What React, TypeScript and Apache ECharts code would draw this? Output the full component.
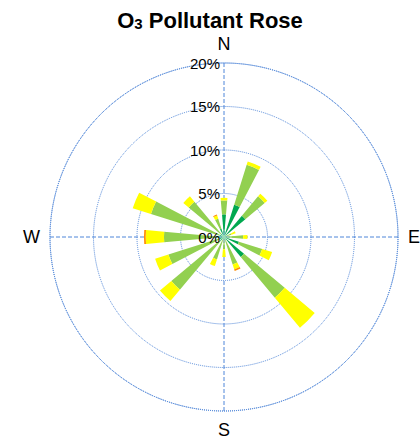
import React, { useEffect, useRef } from "react";
import * as echarts from "echarts";

const directions = ["N", "NNE", "NE", "ENE", "E", "ESE", "SE", "SSE", "S", "SSW", "SW", "WSW", "W", "WNW", "NW", "NNW"];
const band1 = [2.6, 3.9, 3.2, 0.3, 0.3, 1.8, 3.0, 0.4, 0.2, 0.3, 0.6, 0.6, 0.8, 0.5, 0.5, 1.0];
const band2 = [1.6, 4.8, 2.9, 0.6, 1.9, 2.8, 6.1, 2.9, 1.2, 2.4, 7.3, 6.1, 6.1, 8.3, 4.8, 1.2];
const band3 = [0.3, 0.4, 0.4, 0.5, 0.5, 1.2, 4.5, 0.6, 0.9, 0.8, 1.7, 1.6, 2.1, 2.2, 0.8, 0.4];
const band4 = [0, 0, 0, 0, 0, 0, 0, 0.2, 0, 0, 0, 0, 0.2, 0, 0, 0.1];
const bandColors = ["#00a84f", "#92d050", "#ffff00", "#ff8c00"];
const bands = [band1, band2, band3, band4];
const radiusTicks = [0, 5, 10, 15, 20];

const FONT = "Liberation Sans, Arial, sans-serif";
const GRID = "#4f86d9";

export default function App() {
  const ref = useRef<HTMLDivElement>(null);
  useEffect(() => {
    const chart = echarts.init(ref.current!, null, { renderer: "svg" });
    chart.setOption({
      animation: false,
      backgroundColor: "#ffffff",
      title: {
        text: "O{s|3} Pollutant Rose",
        left: "center",
        top: 4,
        textStyle: {
          fontFamily: FONT,
          fontSize: 22,
          fontWeight: "bold",
          color: "#000",
          rich: {
            s: { fontFamily: FONT, fontSize: 15, fontWeight: "bold", color: "#000", verticalAlign: "bottom", padding: [6, 0, 0, 0] },
          },
        },
      },
      polar: [
        { center: [224, 237], radius: 174 },
        { center: [224, 237], radius: 174 },
      ],
      angleAxis: [
        {
          polarIndex: 0,
          type: "category",
          data: directions,
          startAngle: 90,
          clockwise: true,
          boundaryGap: false,
          axisLine: { show: false },
          axisTick: { show: false, interval: 3 },
          axisLabel: { show: true, interval: 3, fontFamily: FONT, fontSize: 18, color: "#000", margin: 10 },
          splitLine: { show: false },
          z: 4,
        },
        {
          polarIndex: 1,
          type: "value",
          min: 0,
          max: 360,
          interval: 90,
          startAngle: 90,
          clockwise: true,
          axisLine: { show: true, lineStyle: { color: GRID, type: "dotted", width: 1 } },
          axisTick: { show: false },
          axisLabel: { show: false },
          splitLine: { show: true, lineStyle: { color: GRID, type: "dashed", width: 1 } },
          z: 1,
        },
      ],
      radiusAxis: [
        {
          polarIndex: 0,
          type: "value",
          min: radiusTicks[0],
          max: radiusTicks[radiusTicks.length - 1],
          interval: 5,
          axisLine: { show: false },
          axisTick: { show: false },
          axisLabel: { show: true, formatter: "{value}%", fontFamily: FONT, fontSize: 15, color: "#000", margin: 4 },
          splitLine: { show: false },
          z: 5,
        },
        {
          polarIndex: 1,
          type: "value",
          min: radiusTicks[0],
          max: radiusTicks[radiusTicks.length - 1],
          interval: 5,
          axisLine: { show: false },
          axisTick: { show: false },
          axisLabel: { show: false },
          splitLine: { show: true, lineStyle: { color: GRID, type: "dotted", width: 1 } },
          z: 1,
        },
      ],
      series: bands.map((b, i) => ({
        type: "bar",
        coordinateSystem: "polar",
        polarIndex: 0,
        stack: "rose",
        barWidth: "45%",
        data: b,
        itemStyle: { color: bandColors[i] },
        z: 3,
      })),
    });
    return () => chart.dispose();
  }, []);
  return <div ref={ref} style={{ position: "fixed", left: 0, top: 0, width: 420, height: 440 }} />;
}
